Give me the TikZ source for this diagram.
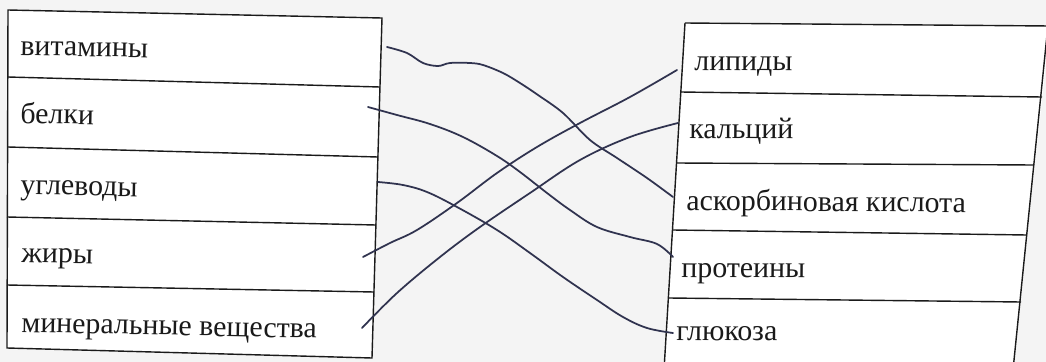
\documentclass[tikz,border=0pt]{standalone}
\usepackage{fontspec}
\setmainfont{Liberation Serif}
\definecolor{paper}{HTML}{F4F4F4}
\definecolor{ink}{HTML}{1A1A1A}
\definecolor{pen}{HTML}{30334F}
\tikzset{
  tbl/.style={draw=ink, line width=0.8pt, line join=miter},
  item/.style={anchor=base west, inner sep=0pt, text=ink, font=\fontsize{17}{20}\selectfont},
  pen/.style={draw=pen, line width=1pt, line cap=round, line join=round}
}
\begin{document}
\begin{tikzpicture}[x=0.02cm,y=-0.02cm]
\useasboundingbox (0,0) rectangle (1046,362);
\fill[paper] (0,0) rectangle (1046,362);
\begin{scope}
\clip (0,0) rectangle (1046,362);
% left table
\fill[white] (8,10) -- (382,18) -- (372,358) -- (7,348) -- cycle;
\draw[tbl] (8,10) -- (382,18) -- (372,358) -- (7,348) -- cycle;
\draw[tbl] (8,77) -- (380,87);
\draw[tbl] (8,147) -- (378,157);
\draw[tbl] (7,217) -- (376,225);
\draw[tbl] (7,285) -- (374,292);
% right table
\fill[white] (685,23) -- (1050,26) -- (1013,370) -- (664,370) -- cycle;
\draw[tbl] (685,23) -- (1050,26);
\draw[tbl] (1048,25) -- (1013,370);
\draw[tbl] (685,23) -- (664,370);
\draw[tbl] (681,92) -- (1042,97);
\draw[tbl] (677,163) -- (1034,165);
\draw[tbl] (673,230) -- (1027,235);
\draw[tbl] (669,298) -- (1021,302);
\end{scope}
% texts
\node[item, rotate=-1.2] (l1) at (20,55) {витамины};
\node[item, rotate=-1.2] (l2) at (20,123) {белки};
\node[item, rotate=-1.2] (l3) at (20,194) {углеводы};
\node[item, rotate=-1.2] (l4) at (21,262) {жиры};
\node[item, rotate=-1.2] (l5) at (21,332) {минеральные вещества};
\node[item, rotate=-0.5] (r1) at (694,70) {липиды};
\node[item, rotate=-0.5] (r2) at (689,138) {кальций};
\node[item, rotate=-0.5] (r3) at (686,210) {аскорбиновая кислота};
\node[item, rotate=-0.5] (r4) at (681,277) {протеины};
\node[item, rotate=-0.5] (r5) at (676,340) {глюкоза};
% connector ends
\coordinate (s1) at (387,47);
\coordinate (s2) at (368,107);
\coordinate (s3) at (378,182);
\coordinate (s4) at (363,257);
\coordinate (s5) at (362,328);
\coordinate (e1) at (677,70);
\coordinate (e2) at (678,123);
\coordinate (e3) at (673,197);
\coordinate (e4) at (673,257);
\coordinate (e5) at (673,333);
% hand-drawn connectors
\draw[pen] plot[smooth, tension=0.55] coordinates {(s1) (407,53) (423,63) (438,66) (450,63) (470,63) (483,65) (503,73) (520,83) (538,95) (563,113) (590,140) (617,158) (647,178) (e3)};
\draw[pen] plot[smooth, tension=0.6] coordinates {(s2) (397,115) (430,124) (463,137) (497,156) (520,172) (547,193) (570,210) (597,227) (630,237) (657,244) (e4)};
\draw[pen] plot[smooth, tension=0.6] coordinates {(s3) (403,185) (427,192) (457,207) (497,230) (530,253) (563,277) (597,300) (623,317) (647,328) (e5)};
\draw[pen] plot[smooth, tension=0.6] coordinates {(s4) (390,243) (417,230) (457,203) (497,173) (537,147) (580,123) (630,97) (e1)};
\draw[pen] plot[smooth, tension=0.6] coordinates {(s5) (397,293) (440,257) (480,227) (530,193) (580,160) (630,137) (e2)};
\end{tikzpicture}
\end{document}
